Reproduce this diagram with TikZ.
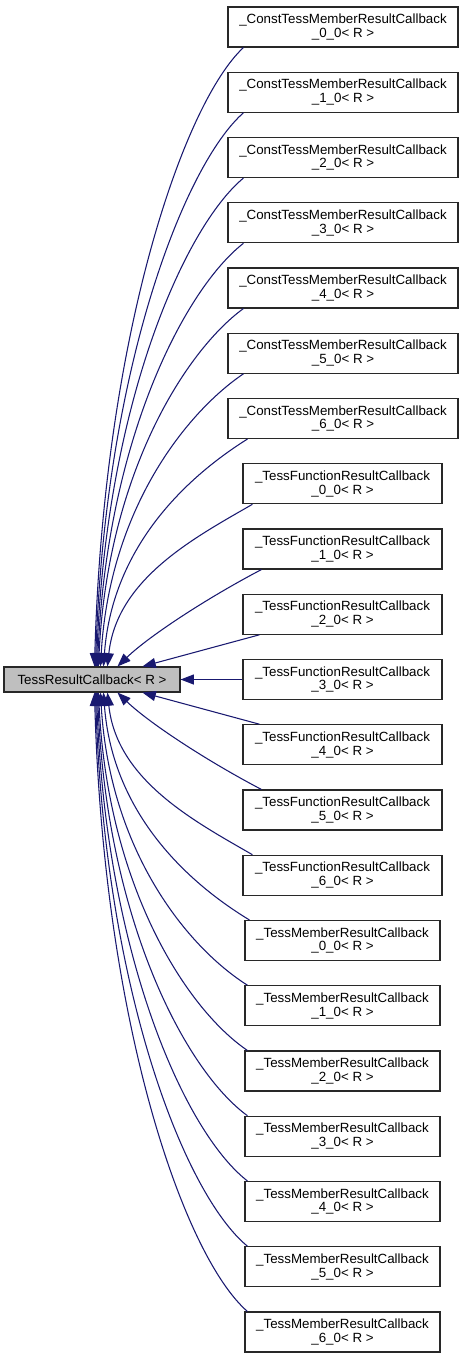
\documentclass[tikz,border=0pt]{standalone}
\usepackage{fontspec}
\setmainfont{Liberation Sans}
\usetikzlibrary{arrows.meta,calc}
\definecolor{edgecol}{RGB}{25,25,112}
\definecolor{basefill}{RGB}{191,191,191}
\definecolor{boxline}{RGB}{40,40,40}
\begin{document}
\begin{tikzpicture}[x=0.75pt,y=-0.75pt,
  box/.style={draw=boxline, line width=0.8pt, fill=white, inner sep=0pt, minimum height=30pt, align=center, font=\fontsize{10}{10.2}\selectfont},
  constbox/.style={box, minimum width=172.5pt},
  funcbox/.style={box, minimum width=149.25pt},
  membox/.style={box, minimum width=146.25pt},
  basebox/.style={draw=boxline, line width=0.8pt, fill=basefill, inner sep=0pt, minimum width=132pt, minimum height=18.75pt, font=\fontsize{10}{12}\selectfont},
  edge/.style={draw=edgecol, line width=0.8pt, -{Triangle[length=10pt,width=7.5pt]}}]
\useasboundingbox (0,0) rectangle (463,1359);
\node[basebox] (base) at (92,679.5) {TessResultCallback< R >};
\foreach \k in {0,...,6} {
  \node[constbox] (b\k) at (343,{27+65.25*\k}) {\_ConstTessMemberResultCallback\\\_\k\_0< R >};
}
\foreach \k in {0,...,6} {
  \pgfmathtruncatemacro\idx{7+\k}
  \node[funcbox] (b\idx) at (342.5,{27+65.25*\idx}) {\_TessFunctionResultCallback\\\_\k\_0< R >};
}
\foreach \k in {0,...,6} {
  \pgfmathtruncatemacro\idx{14+\k}
  \node[membox] (b\idx) at (342.5,{27+65.25*\idx}) {\_TessMemberResultCallback\\\_\k\_0< R >};
}
\foreach \i/\off/\moff/\ax/\ay/\bx/\by/\tx in {
  0/16/3/184.4/102.4/103.9/332.2/95,
  1/16/3/184.8/164.35/104.9/367.4/96,
  2/16/3/185.2/226.3/105.8/402.7/97,
  3/16/3/185.6/288.3/106.8/437.9/98,
  4/16/3/186/350.3/107.7/473.1/99,
  5/16/3/186.8/412.1/109.6/508.4/101,
  6/20/5/190.4/474.8/112.6/543.6/104,
  7/10/10/195/537.4/116.7/578.8/108,
  8/19/19/204.4/599.5/148/637/118} {
  \pgfmathtruncatemacro\j{20-\i}
  \draw[edge] ($(b\i.south west)+(\off,0)$) .. controls (\ax,\ay) and (\bx,\by) .. ($(base.north west)+({\tx-4},0)$);
  \draw[edge] ($(b\j.north west)+(\moff,0)$) .. controls (\ax,{1359-\ay}) and (\bx,{1359-\by}) .. ($(base.south west)+({\tx-4},0)$);
}
\draw[edge] ($(b9.south west)+(17,0)$) -- ($(base.north west)+(139,0)$);
\draw[edge] ($(b11.north west)+(17,0)$) -- ($(base.south west)+(139,0)$);
\draw[edge] (b10.west) -- (base.east);
\end{tikzpicture}
\end{document}
